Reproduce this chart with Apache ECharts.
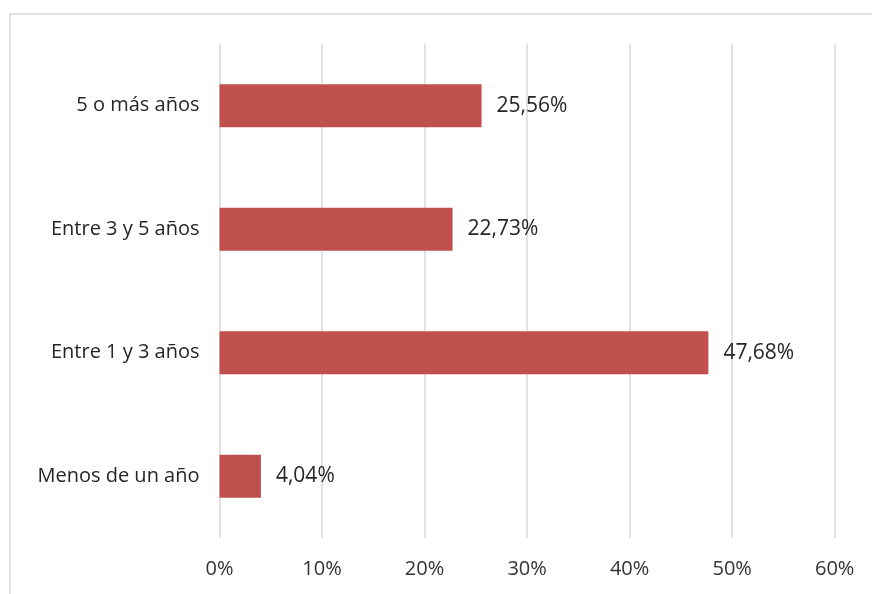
<!DOCTYPE html>
<html>
<head>
<meta charset="utf-8">
<script src="https://cdn.jsdelivr.net/npm/echarts@6/dist/echarts.min.js"></script>
<style>
html,body{margin:0;padding:0;background:#fff;}
#chart{width:872px;height:594px;}
</style>
</head>
<body>
<div id="chart"></div>
<script>
// Antigüedad: categories from bottom to top
const categories = ['Menos de un año', 'Entre 1 y 3 años', 'Entre 3 y 5 años', '5 o más años'];
const percentages = [4.04, 47.68, 22.73, 25.56];
const tickValues = [0, 10, 20, 30, 40, 50, 60];

const fontFamily = '"Open Sans", "Noto Sans", sans-serif';
const fmt = v => String(v).replace('.', ',') + '%';

const chart = echarts.init(document.getElementById('chart'), null, { renderer: 'canvas' });
chart.setOption({
  animation: false,
  backgroundColor: '#ffffff',
  graphic: [{
    type: 'rect',
    shape: { x: 10, y: 14, width: 1000, height: 800 },
    style: { fill: 'none', stroke: '#d9d9d9', lineWidth: 1.5 },
    silent: true
  }],
  grid: { left: 219.5, right: 37.3, top: 44, bottom: 56 },
  xAxis: {
    type: 'value',
    min: tickValues[0],
    max: tickValues[tickValues.length - 1],
    interval: 10,
    axisLine: { show: false },
    axisTick: { show: false },
    splitLine: { show: true, lineStyle: { color: '#d9d9d9', width: 1.5 } },
    axisLabel: {
      formatter: v => v + '%',
      color: '#333333',
      fontSize: 20,
      fontFamily: fontFamily,
      margin: 21
    }
  },
  yAxis: {
    type: 'category',
    data: categories,
    axisLine: { show: false },
    axisTick: { show: false },
    axisLabel: {
      color: '#262626',
      fontSize: 20,
      fontFamily: fontFamily,
      margin: 20
    }
  },
  series: [{
    type: 'bar',
    data: percentages,
    barWidth: '35%',
    itemStyle: { color: '#C0504D' },
    label: {
      show: true,
      position: 'right',
      distance: 15,
      formatter: p => fmt(p.value),
      color: '#262626',
      fontSize: 21,
      fontFamily: fontFamily
    }
  }]
});
</script>
</body>
</html>
